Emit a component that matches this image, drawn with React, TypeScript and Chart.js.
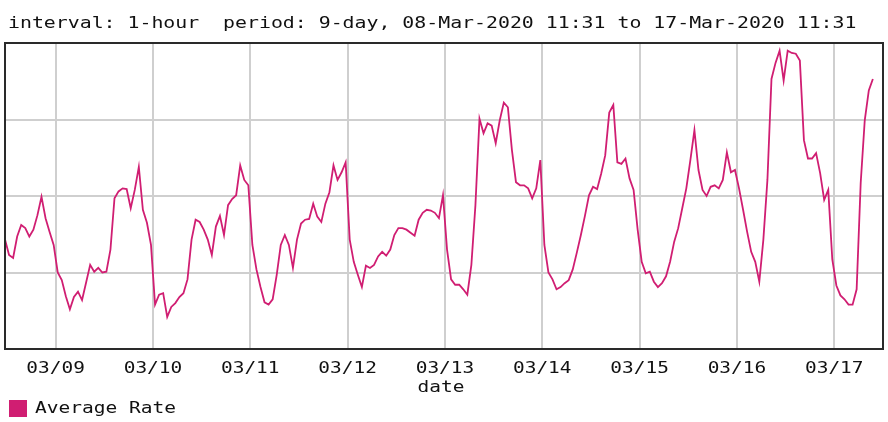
import React, { useEffect, useRef } from "react";
import { Chart, registerables } from "chart.js";

Chart.register(...registerables);

// Hours since 08-Mar-2020 11:31
const averageRate: number[] = [
  1.43, 1.23, 1.19, 1.47, 1.62, 1.58, 1.47, 1.56, 1.75, 1.99,
  1.71, 1.53, 1.36, 1.0, 0.9, 0.69, 0.52, 0.68, 0.75, 0.64,
  0.87, 1.1, 1.01, 1.06, 1.0, 1.01, 1.3, 1.97, 2.06, 2.1,
  2.09, 1.84, 2.08, 2.38, 1.82, 1.65, 1.36, 0.58, 0.71, 0.73,
  0.42, 0.55, 0.6, 0.68, 0.73, 0.91, 1.43, 1.69, 1.66, 1.56,
  1.43, 1.23, 1.6, 1.74, 1.49, 1.88, 1.96, 2.01, 2.4, 2.21,
  2.14, 1.36, 1.04, 0.81, 0.61, 0.58, 0.65, 0.97, 1.36, 1.49,
  1.36, 1.06, 1.43, 1.64, 1.69, 1.7, 1.9, 1.73, 1.66, 1.9,
  2.05, 2.4, 2.21, 2.31, 2.44, 1.43, 1.14, 0.97, 0.81, 1.09,
  1.06, 1.1, 1.21, 1.27, 1.22, 1.3, 1.49, 1.58, 1.58, 1.56,
  1.52, 1.48, 1.69, 1.78, 1.82, 1.81, 1.78, 1.71, 2.01, 1.3,
  0.91, 0.84, 0.84, 0.78, 0.71, 1.1, 1.88, 3.01, 2.82, 2.95,
  2.92, 2.69, 2.99, 3.22, 3.16, 2.6, 2.18, 2.14, 2.14, 2.1,
  1.97, 2.1, 2.47, 1.36, 1.0, 0.91, 0.78, 0.81, 0.86, 0.9,
  1.04, 1.26, 1.49, 1.74, 2.01, 2.12, 2.09, 2.29, 2.53, 3.09,
  3.19, 2.44, 2.42, 2.49, 2.23, 2.08, 1.56, 1.14, 0.99, 1.01,
  0.88, 0.81, 0.86, 0.95, 1.14, 1.4, 1.58, 1.84, 2.1, 2.47,
  2.86, 2.34, 2.08, 2.0, 2.12, 2.14, 2.1, 2.21, 2.57, 2.31,
  2.34, 2.1, 1.82, 1.53, 1.27, 1.14, 0.88, 1.43, 2.21, 3.53,
  3.74, 3.9, 3.51, 3.9, 3.87, 3.86, 3.77, 2.73, 2.49, 2.49,
  2.56, 2.3, 1.95, 2.08, 1.17, 0.83, 0.7, 0.65, 0.58, 0.58,
  0.78, 2.17, 2.99, 3.38, 3.53,
];

const dayTickHours: number[] = [12.48, 36.48, 60.48, 84.48, 108.48, 132.48, 156.48, 180.48, 204.48];
const dayLabels: string[] = ["03/09", "03/10", "03/11", "03/12", "03/13", "03/14", "03/15", "03/16", "03/17"];
const titleText = "interval: 1-hour  period: 9-day, 08-Mar-2020 11:31 to 17-Mar-2020 11:31";
const xAxisTitle = "date";
const seriesName = "Average Rate";
const periodHours = 216.5;

const LINE_COLOR = "#D01E72";
const TEXT_COLOR = "#111111";
const FONT = '16px "DejaVu Sans Mono", "Liberation Mono", monospace';

function drawMono(ctx: CanvasRenderingContext2D, text: string, x: number, baseline: number, align: "left" | "center", charW: number) {
  ctx.save();
  ctx.font = FONT;
  ctx.fillStyle = TEXT_COLOR;
  ctx.textBaseline = "alphabetic";
  ctx.textAlign = "left";
  const natural = ctx.measureText(text).width;
  const target = text.length * charW;
  const sx = target / natural;
  const left = align === "center" ? x - target / 2 : x;
  ctx.translate(left, baseline);
  ctx.scale(sx, 1);
  ctx.fillText(text, 0, 0);
  ctx.restore();
}

const textPlugin = {
  id: "mrtgText",
  afterDraw(chart: any) {
    const ctx: CanvasRenderingContext2D = chart.ctx;
    const area = chart.chartArea;
    const xs = chart.scales.x;
    ctx.save();
    ctx.strokeStyle = "#2a2a2a";
    ctx.lineWidth = 2;
    ctx.strokeRect(area.left, area.top, area.right - area.left, area.bottom - area.top);
    ctx.restore();
    drawMono(ctx, titleText, 8, 28, "left", 11.95);
    dayTickHours.forEach((h, i) => {
      drawMono(ctx, dayLabels[i], xs.getPixelForValue(h), 373, "center", 11.7);
    });
    drawMono(ctx, xAxisTitle, (area.left + area.right) / 2 - 3, 392, "center", 11.7);
    ctx.save();
    ctx.fillStyle = LINE_COLOR;
    ctx.fillRect(9, 400, 18, 17);
    ctx.restore();
    drawMono(ctx, seriesName, 35, 413, "left", 11.75);
  },
};

export default function App() {
  const ref = useRef<HTMLCanvasElement | null>(null);
  useEffect(() => {
    if (!ref.current) return;
    const chart = new Chart(ref.current, {
      type: "line",
      data: {
        datasets: [
          {
            label: seriesName,
            data: averageRate.map((v, i) => ({ x: i, y: v })),
            borderColor: LINE_COLOR,
            backgroundColor: LINE_COLOR,
            borderWidth: 1.8,
            pointRadius: 0,
            tension: 0,
            fill: false,
          },
        ],
      },
      options: {
        responsive: false,
        animation: false,
        devicePixelRatio: 1,
        layout: { padding: { left: 5, top: 43, right: 5, bottom: 73 } },
        plugins: { legend: { display: false }, title: { display: false }, tooltip: { enabled: false } },
        scales: {
          x: {
            type: "linear",
            min: 0,
            max: periodHours,
            border: { display: false },
            grid: { color: "#cfcfcf", lineWidth: 2, drawTicks: false },
            ticks: { display: false },
            afterBuildTicks: (scale: any) => {
              scale.ticks = dayTickHours.map((v) => ({ value: v }));
            },
            afterFit: (scale: any) => {
              scale.height = 0;
            },
          },
          y: {
            type: "linear",
            min: 0,
            max: 4,
            border: { display: false },
            grid: { color: "#cfcfcf", lineWidth: 2, drawTicks: false },
            ticks: { display: false, stepSize: 1 },
            afterFit: (scale: any) => {
              scale.width = 0;
            },
          },
        },
      },
      plugins: [textPlugin],
    });
    return () => chart.destroy();
  }, []);
  return (
    <div style={{ position: "absolute", left: 0, top: 0, width: 888, height: 422, background: "#fff" }}>
      <canvas ref={ref} width={888} height={422} style={{ display: "block" }} />
    </div>
  );
}
